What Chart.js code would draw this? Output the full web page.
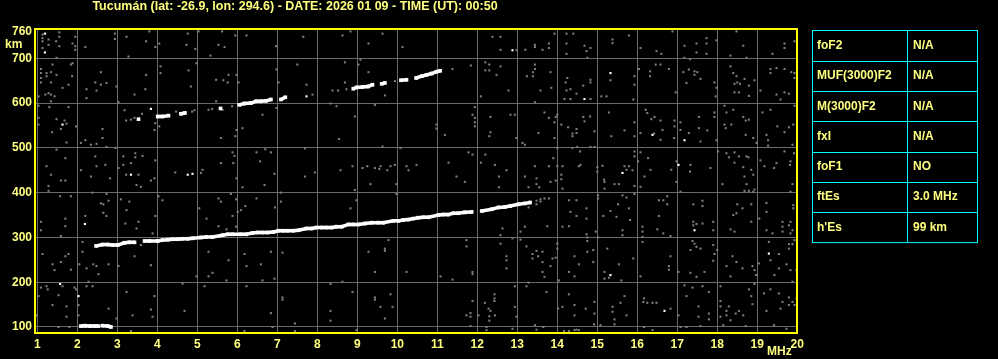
<!DOCTYPE html>
<html>
<head>
<meta charset="utf-8">
<script src="https://cdn.jsdelivr.net/npm/chart.js@4.4.1/dist/chart.umd.min.js"></script>
<style>
  html, body { margin: 0; padding: 0; background: #000; }
  #wrap { position: relative; width: 998px; height: 359px; }
</style>
</head>
<body>
<div id="wrap"><canvas id="iono"></canvas></div>
<script>
const titleText = "Tucumán (lat: -26.9, lon: 294.6) - DATE: 2026 01 09 - TIME (UT): 00:50";
const freqTicks = [1, 2, 3, 4, 5, 6, 7, 8, 9, 10, 11, 12, 13, 14, 15, 16, 17, 18, 19, 20];
const heightTicks = [100, 200, 300, 400, 500, 600, 700, 760];

const tableLabels = ["foF2", "MUF(3000)F2", "M(3000)F2", "fxI", "foF1", "ftEs", "h'Es"];
const tableValues = ["N/A", "N/A", "N/A", "N/A", "NO", "3.0 MHz", "99 km"];

// echo traces [MHz, km]; null marks a break in the trace
const esTrace = [[2.09,102],[2.2,103],[2.32,102],[2.43,102],[2.53,102],null,[2.63,103],[2.76,102],[2.84,100]];

const lowerTrace = [
  [2.47,281],[2.63,284],[2.76,284],[2.88,283],[3.01,283],[3.18,288],[3.3,289],[3.43,289],null,
  [3.68,292],[3.8,292],[4.01,292],[4.13,294],[4.26,295],[4.38,296],[4.51,296],[4.63,297],
  [4.76,297],[4.88,298],[5.09,300],[5.22,301],[5.38,301],[5.63,305],[5.76,307],[5.88,307],
  [6.09,307],[6.22,307],[6.38,310],[6.51,311],[6.63,311],[6.76,311],[6.9,312],[7.03,315],
  [7.15,315],[7.26,315],[7.4,315],[7.53,316],[7.73,320],[7.86,320],[7.98,322],[8.11,322],
  [8.23,322],[8.36,322],[8.48,324],[8.61,324],[8.78,329],[8.9,329],[9.03,329],[9.19,331],
  [9.36,333],[9.52,333],[9.65,333],[9.9,337],[10.03,337],[10.15,339],[10.28,340],[10.4,342],
  [10.52,344],[10.65,345],[10.78,345],[11.03,350],[11.15,351],[11.27,351],[11.4,354],[11.52,354],
  [11.69,356],[11.86,357],null,[12.11,359],[12.36,363],[12.53,367],[12.69,368],[12.82,370],[13.03,374],
  [13.19,376],[13.32,378]
];

const upperTrace = [
  [3.53,564],null,[4.01,570],[4.13,570],[4.28,572],null,[4.59,576],[4.69,578],null,[5.58,588],null,
  [6.05,596],[6.17,599],[6.34,600],[6.47,604],[6.59,604],[6.72,605],[6.84,608],null,[7.09,608],[7.2,613],null,
  [8.9,632],[8.98,635],[9.13,636],[9.27,637],[9.38,641],null,[9.61,643],[9.69,645],null,[10.09,651],
  [10.23,652],null,[10.47,656],[10.61,660],[10.73,663],[10.86,666],[10.98,670],[11.07,672]
];

const whiteDots = [
  [1.19,755],[1.19,713],[1.63,552],[3.84,587],[3.34,440],[4.76,440],[4.88,442],[12.88,718],
  [7.73,615],[14.68,609],[15.33,667],[16.38,529],[17.18,517],[15.63,444],[17.03,462],[2.19,330],
  [1.57,196],[2.03,169],[17.43,316],[15.33,216],[19.29,264],[16.68,136]
];

const noiseDots = [
  // 500-760 km, 1-7 MHz
  [1.13,753],[1.13,745],[1.13,738],[1.28,742],[1.28,730],[1.13,723],[1.55,758],[1.55,748],
  [1.47,738],[1.55,727],[1.88,733],[1.95,748],[1.95,727],[1.95,719],[2.2,725],[2.94,755],
  [2.94,743],[3.23,748],[3.28,704],[3.8,760],[3.72,738],[3.95,725],[4.05,733],[4.76,755],
  [4.73,730],[4.95,721],[5.03,760],[5.33,706],[5.53,730],[5.68,725],[5.62,760],[5.95,751],
  [6.23,751],[6.97,727],[1.48,701],
  [1.09,676],[1.09,667],[1.09,656],[1.09,646],[1.23,667],[1.23,660],[1.34,669],[1.34,646],
  [1.38,686],[1.48,663],[1.63,634],[1.84,686],[1.88,689],[1.87,660],[1.78,641],[1.28,622],
  [1.2,619],[1.34,619],[1.03,615],[1.43,615],[1.34,604],[2.23,631],[2.23,611],[2.45,646],
  [2.48,628],[2.59,669],[2.73,645],[2.59,641],[2.98,637],[3.03,602],[3.43,619],[3.72,663],
  [3.7,631],[4.08,682],[4.08,667],[4.78,673],[4.84,637],[4.98,689],[5.47,652],[5.65,651],
  [5.76,646],[5.78,663],[5.98,663],[6.03,646],[7.03,646],[5.47,604],[6.98,675],
  [1.03,594],[1.03,567],[1.03,552],[1.3,591],[1.78,591],[1.48,564],[1.68,561],[1.73,554],
  [1.97,548],[1.37,535],[1.59,542],[1.73,512],[2.2,517],[2.09,511],[2.34,507],[2.48,509],
  [2.63,542],[2.63,522],[2.73,502],[2.95,500],[3.18,584],[3.22,561],[3.34,563],[3.43,567],
  [3.62,576],[3.95,555],[3.93,540],[4.05,548],[4.47,581],[4.87,581],[4.93,584],[5.28,585],
  [5.37,587],[5.63,585],[5.87,593],[5.59,522],[5.95,526],[5.98,540],[6.13,544],[6.63,574],
  [6.98,589],
  // 420-500 km, 1-7 MHz
  [1.48,496],[1.7,477],[1.23,459],[1.34,440],[1.59,427],[2.09,450],[2.34,436],[2.45,481],
  [2.48,459],[2.7,462],[2.82,432],[3.03,455],[3.15,481],[3.15,462],[3.22,440],[3.34,466],
  [3.45,488],[3.45,479],[3.53,440],[3.63,482],[3.95,472],[3.93,432],[4.45,445],[5.13,451],
  [5.09,444],[5.59,466],[5.88,490],[5.93,482],[5.9,466],[5.98,432],[6.48,490],[6.7,497],
  [6.57,470],[6.84,490],[6.93,442],
  // 420-760 km, 7-14 MHz
  [7.65,748],[8.63,751],[8.83,760],[9.63,755],[9.28,733],[10.13,725],[12.38,748],[12.58,748],
  [12.58,719],[12.98,718],[13.2,719],[13.44,730],[13.44,725],[13.63,719],[7.5,686],[8.69,691],
  [9.03,686],[9.08,697],[9.28,669],[7.73,641],[8.69,646],[8.38,628],[8.52,628],[8.73,631],
  [7.88,619],[9.69,617],[11.38,676],[11.84,684],[12.2,691],[12.3,686],[12.2,673],[12.3,673],
  [12.58,682],[12.48,663],[12.78,628],[13.24,660],[13.39,669],[13.44,686],[13.44,676],[13.39,660],
  [13.58,628],[13.44,602],[12.09,615],[9.94,649],
  [8.33,599],[8.48,593],[8.94,570],[9.44,596],[8.54,520],[10.98,552],[10.98,543],[11.19,529],
  [11.94,591],[11.88,574],[11.94,567],[11.94,557],[11.94,548],[12.33,569],[12.83,574],[12.94,574],
  [12.33,535],[12.3,526],[12.98,522],[13.13,511],[13.19,507],[13.53,533],[9.63,503],[10.08,500],
  [7.69,499],
  [7.69,436],[7.94,445],[8.58,450],[8.88,459],[9.13,455],[9.25,459],[9.44,455],[9.55,453],
  [9.58,459],[9.75,450],[9.83,459],[9.94,462],[10.23,459],[10.28,450],[10.48,462],[11.28,467],
  [11.48,436],[11.78,490],[11.88,485],[12.09,467],[12.2,485],[12.44,462],[12.54,436],[12.73,450],
  [13.19,436],[13.44,459],[13.48,432],
  // 420-760 km, 14-20 MHz
  [13.93,755],[14.23,755],[14.4,755],[13.79,733],[13.79,723],[14.23,733],[14.73,716],[14.68,728],
  [14.83,723],[14.23,710],[14.75,701],[15.38,742],[15.38,734],[15.79,751],[16.08,723],[16.48,716],
  [16.6,710],[16.88,760],[17.18,728],[17.48,733],[17.48,713],[17.73,745],[17.73,733],[17.73,710],
  [17.98,740],[17.18,701],[17.32,698],[18.33,706],[18.48,760],[18.65,728],[18.73,701],[19.38,710],
  [19.68,733],[19.68,723],[19.93,738],
  [13.83,669],[13.85,634],[14.21,646],[14.25,656],[14.23,628],[14.33,631],[14.18,609],[14.33,609],
  [14.48,621],[14.65,639],[14.83,652],[14.83,646],[14.83,609],[15.33,651],[15.1,615],[15.23,615],
  [15.93,660],[15.93,641],[15.9,608],[16.04,676],[16.32,671],[16.32,660],[16.46,686],[16.58,686],
  [16.79,676],[16.96,624],[17.15,669],[17.29,675],[17.43,671],[17.43,663],[17.5,669],[17.58,654],
  [17.23,645],[17.93,646],[17.98,634],[17.96,615],[18.33,682],[18.4,667],[18.48,660],[18.5,646],
  [18.43,643],[18.57,643],[18.79,639],[18.68,654],[18.93,651],[18.43,624],[18.54,624],[18.79,616],
  [19.08,628],[19.33,676],[19.33,667],[19.48,678],[19.68,676],[19.93,667],[19.93,656],[19.85,669],
  [19.48,619],[19.58,608],[19.68,624],[19.79,621],
  [13.68,579],[13.79,567],[13.96,569],[14.0,574],[13.93,557],[14.1,552],[14.27,546],[14.48,542],
  [14.38,532],[14.38,526],[14.48,533],[14.65,569],[14.68,559],[14.82,570],[14.93,537],[13.93,522],
  [14.0,500],[15.29,579],[15.68,539],[15.93,557],[15.35,526],[15.93,526],[16.21,585],[16.25,578],
  [16.35,564],[16.43,569],[16.58,561],[16.63,540],[16.42,532],[16.08,533],[16.58,518],[16.93,561],
  [16.93,548],[16.92,522],[17.08,557],[17.08,540],[17.29,533],[17.54,569],[17.54,544],[17.75,539],
  [17.58,514],[17.93,569],[17.98,517],[17.93,579],[18.18,594],[18.23,579],[18.18,552],[18.21,544],
  [18.35,552],[18.4,585],[18.65,569],[18.71,561],[18.79,563],[18.71,529],[18.9,522],[18.98,511],
  [19.13,579],[19.33,585],[19.23,529],[19.27,517],[19.27,505],[19.5,548],[19.68,535],[19.79,546],
  [19.9,552],[19.93,594],[19.88,507],
  [13.9,477],[13.79,459],[14.0,459],[14.13,459],[14.1,440],[14.1,430],[14.38,500],[14.5,502],
  [14.57,492],[14.83,502],[14.93,502],[14.54,459],[14.58,462],[15.0,457],[15.0,447],[15.13,460],
  [15.17,429],[15.68,459],[15.73,451],[15.79,459],[15.88,450],[15.93,481],[15.93,492],[16.08,490],
  [16.02,470],[16.18,436],[16.27,477],[16.33,451],[16.85,451],[16.98,470],[17.33,462],[17.32,447],
  [17.83,455],[18.02,492],[18.23,488],[18.29,479],[18.43,490],[18.43,467],[18.54,481],[18.73,481],
  [18.78,479],[18.65,457],[18.68,436],[18.9,440],[18.85,451],[19.08,472],[19.18,459],[19.42,455],
  [19.48,466],[19.68,492],[19.83,470],[19.92,488],[19.82,462],
  // 90-420 km, 1-7 MHz
  [1.28,415],[1.28,404],[1.57,392],[1.84,392],[1.7,427],[2.38,400],[2.73,397],[2.78,382],
  [2.65,374],[2.59,376],[3.09,385],[3.23,361],[3.3,380],[3.48,417],[3.59,413],[3.84,427],
  [4.03,392],[4.13,383],[5.53,387],[5.59,380],[5.84,397],[5.97,385],[6.09,361],[6.2,370],
  [6.13,412],[6.48,387],[6.68,417],[6.94,367],[7.09,380],[7.09,400],
  [1.09,335],[1.09,316],[1.7,342],[1.7,325],[1.59,303],[2.2,348],[2.65,355],[2.73,348],
  [3.2,331],[3.53,335],[3.48,320],[3.95,348],[3.88,309],[5.05,365],[5.23,342],[5.53,325],
  [5.73,318],[5.88,348],[5.97,324],[6.01,357],
  [1.13,263],[1.38,240],[1.43,227],[1.59,245],[1.7,258],[1.78,263],[1.84,228],[2.05,240],
  [2.13,268],[2.23,231],[2.4,240],[2.48,236],[2.53,218],[2.78,240],[3.03,236],[3.43,258],
  [3.84,238],[4.98,213],[5.28,268],[5.38,221],[5.28,213],[5.78,249],[5.73,204],[6.23,236],
  [6.18,263],[6.59,240],[6.63,204],[6.84,268],[6.93,208],[7.13,266],[3.59,283],[3.15,290],
  [2.13,290],
  [1.09,188],[1.23,191],[1.26,184],[1.53,171],[1.63,191],[1.93,188],[1.97,184],[2.23,191],
  [2.38,191],[2.28,201],[1.38,149],[1.73,146],[2.03,149],[1.73,123],[2.03,126],[2.78,141],
  [2.98,119],[3.23,178],[3.38,126],[3.84,139],[3.88,123],[3.93,169],[4.63,197],[4.68,136],
  [5.18,191],[6.23,191],[6.84,131],[7.13,166],[7.13,161],[1.03,169],[0.98,126],[1.53,100],
  [1.8,100],[3.34,91],[6.18,91],[6.88,100],
  // 90-420 km, 7-14 MHz
  [9.33,419],[9.98,419],[9.98,397],[8.94,406],[8.98,383],[8.83,365],[11.69,424],[12.54,412],
  [13.28,412],[13.48,419],[13.55,412],[13.58,385],[13.58,380],[13.48,374],[13.28,367],[13.48,382],
  [9.78,294],[9.69,275],[9.69,270],[9.28,268],[9.44,223],[10.23,223],[11.08,213],[11.38,206],
  [11.73,294],[11.73,280],[11.88,223],[11.88,218],[12.58,305],[12.58,286],[12.63,320],[12.73,258],
  [12.73,249],[12.73,231],[12.88,298],[13.08,313],[13.08,295],[13.19,324],[13.23,280],[13.38,263],
  [13.38,253],[13.48,270],[13.52,258],[13.63,268],[13.63,245],[13.63,223],[13.28,199],[13.23,191],
  [12.94,191],[8.33,196],[8.63,201],[8.88,178],[9.44,166],[9.44,161],[9.83,173],[9.58,145],
  [9.88,145],[8.33,136],[8.33,114],[9.69,119],[7.44,108],[7.44,91],[8.98,93],[11.73,126],
  [11.83,131],[11.83,123],[11.83,102],[11.88,158],[12.03,126],[12.19,154],[12.28,141],[12.33,136],
  [12.3,124],[12.3,114],[12.43,173],[12.43,164],[12.43,158],[12.44,126],[12.23,100],[12.23,93],
  [12.94,145],[12.98,123],[12.88,96],[13.44,104],[13.65,100],[13.48,94],
  // 90-420 km, 14-20 MHz
  [13.83,424],[13.96,427],[14.13,409],[15.18,424],[15.18,409],[15.43,419],[15.54,419],[15.93,415],
  [16.08,413],[16.98,424],[17.08,402],[18.13,419],[18.73,419],[18.68,404],[18.79,404],[18.9,402],
  [18.93,407],[19.88,419],[19.83,402],
  [13.68,387],[13.79,387],[14.29,383],[14.48,383],[14.33,357],[14.48,348],[14.73,365],[14.73,342],
  [14.13,324],[14.29,325],[13.75,325],[14.73,307],[14.75,300],[14.75,292],[14.96,313],[15.02,394],
  [15.02,387],[15.15,348],[15.33,359],[15.48,346],[15.52,374],[15.63,394],[15.63,316],[15.63,305],
  [15.73,389],[15.79,365],[15.93,397],[15.82,339],[16.13,324],[16.13,313],[16.13,301],[16.5,318],
  [16.65,309],[16.54,383],[16.65,383],[16.75,392],[16.75,374],[16.54,348],[16.83,303],[17.4,374],
  [17.63,382],[17.63,370],[17.4,335],[17.4,327],[17.48,330],[17.63,331],[17.9,335],[17.9,316],
  [18.5,374],[18.33,318],[18.43,313],[18.4,350],[18.48,354],[18.63,365],[18.85,335],[18.85,374],
  [19.23,377],[19.23,357],[19.05,342],[19.23,316],[19.38,309],[19.63,335],[19.63,324],[19.63,313],
  [19.79,327],[19.83,335],[19.88,316],[19.83,309],[19.9,372],[19.9,365],[19.93,294],[19.88,285],
  [19.79,285],[19.79,275],
  [14.0,286],[14.0,275],[13.88,253],[13.96,255],[13.83,236],[13.68,212],[14.04,204],[14.29,223],
  [14.43,258],[14.43,213],[14.54,240],[14.75,268],[14.9,272],[14.9,245],[15.02,300],[15.25,275],
  [15.18,223],[15.18,208],[15.29,210],[15.54,240],[15.6,204],[15.9,253],[16.08,213],[16.13,290],
  [16.83,258],[16.79,236],[16.79,228],[17.03,223],[17.33,272],[17.33,221],[17.38,292],[17.43,286],
  [17.48,279],[17.58,275],[17.68,223],[17.48,212],[17.9,283],[17.93,263],[17.9,248],[18.0,272],
  [18.23,236],[18.33,213],[18.38,258],[18.48,245],[18.63,231],[18.88,236],[18.93,227],[18.97,216],
  [19.04,242],[19.29,290],[19.33,249],[19.43,216],[19.54,263],[19.54,231],[19.73,240],[19.83,227],
  [19.98,227],[19.88,201],
  [13.73,178],[14.02,141],[14.13,145],[14.29,173],[14.43,149],[14.43,126],[14.29,91],[14.43,93],
  [14.54,93],[14.71,141],[14.93,156],[14.93,130],[14.92,106],[15.08,104],[15.38,145],[15.38,134],
  [15.43,117],[15.43,106],[15.68,169],[15.58,154],[15.73,126],[16.17,164],[16.15,156],[16.25,154],
  [16.38,154],[16.48,154],[16.83,141],[16.17,100],[16.38,93],[17.03,126],[17.18,193],[17.23,169],
  [17.38,188],[17.53,146],[17.53,123],[17.63,191],[17.79,178],[17.79,130],[17.79,117],[18.08,191],
  [18.08,158],[18.08,146],[18.08,123],[18.23,136],[18.23,126],[18.29,146],[18.33,115],[18.46,130],
  [18.54,136],[18.65,126],[18.71,102],[18.79,184],[18.85,169],[18.88,151],[18.93,196],[19.17,175],
  [19.23,136],[19.33,184],[19.54,175],[19.58,141],[19.63,156],[19.79,166],[19.79,149],[19.88,156],
  [19.93,149],[19.98,164],[19.42,104],[19.73,96],[18.15,104],[17.58,102],[17.08,100],[17.23,100],
  [14.48,94],[14.17,91]
];

const textYellow = "#ffff80";
const fontFamily = "'Liberation Sans', Arial, sans-serif";
const toXY = (arr) => arr.map((p) => (p ? { x: p[0], y: p[1] } : { x: null, y: null }));

const ionoExtras = {
  id: "ionoExtras",
  afterDraw(chart) {
    const { ctx, chartArea } = chart;
    ctx.save();
    // yellow frame
    ctx.strokeStyle = "#ffff00";
    ctx.lineWidth = 2;
    ctx.strokeRect(chartArea.left - 1, chartArea.top, chartArea.right - chartArea.left, chartArea.bottom - chartArea.top);

    ctx.fillStyle = textYellow;
    ctx.font = "bold 12.5px " + fontFamily;
    ctx.textBaseline = "middle";
    ctx.textAlign = "center";
    ctx.fillText(titleText, 295, 7);

    ctx.font = "bold 12px " + fontFamily;
    ctx.textAlign = "left";
    ctx.fillText("km", 5, 45);
    ctx.fillText("MHz", 767, 352);

    // parameter table
    const tx = 812.5, tw = 165, ty = 30.5, rowH = 30.3, split = 907.5;
    ctx.strokeStyle = "#00ffff";
    ctx.lineWidth = 1;
    ctx.strokeRect(tx, ty, tw, rowH * tableLabels.length);
    ctx.beginPath();
    ctx.moveTo(split, ty);
    ctx.lineTo(split, ty + rowH * tableLabels.length);
    for (let i = 1; i < tableLabels.length; i++) {
      const yy = Math.round(ty + rowH * i) + 0.5;
      ctx.moveTo(tx, yy);
      ctx.lineTo(tx + tw, yy);
    }
    ctx.stroke();
    ctx.font = "bold 12px " + fontFamily;
    tableLabels.forEach((lab, i) => {
      const yy = ty + rowH * (i + 0.5);
      ctx.fillText(lab, 817, yy);
      ctx.fillText(tableValues[i], 913, yy);
    });
    ctx.restore();
  }
};

const traceStyle = {
  pointStyle: "rect",
  pointRadius: 2.6,
  backgroundColor: "#ffffff",
  borderColor: "#ffffff",
  borderWidth: 3.5,
  pointBorderWidth: 0,
  showLine: true,
  spanGaps: false,
  tension: 0
};

new Chart(document.getElementById("iono"), {
  type: "scatter",
  data: {
    datasets: [
      { label: "Es", data: toXY(esTrace), ...traceStyle },
      { label: "F", data: toXY(lowerTrace), ...traceStyle },
      { label: "2F", data: toXY(upperTrace), ...traceStyle },
      { label: "strong", data: toXY(whiteDots), pointStyle: "rect", pointRadius: 1.5, backgroundColor: "#ffffff", borderWidth: 0 },
      { label: "noise", data: toXY(noiseDots), pointStyle: "rect", pointRadius: 1.45, backgroundColor: "#808080", borderWidth: 0 }
    ]
  },
  options: {
    responsive: true,
    maintainAspectRatio: false,
    animation: false,
    events: [],
    layout: { padding: { top: 29, right: 200, left: 0, bottom: 0 } },
    plugins: { legend: { display: false }, tooltip: { enabled: false }, title: { display: false } },
    scales: {
      x: {
        type: "linear",
        min: 0.967,
        max: 20.018,
        afterBuildTicks: (scale) => { scale.ticks = freqTicks.map((v) => ({ value: v })); },
        afterFit: (scale) => { scale.height = 26; },
        grid: { color: "#6a6a6a", lineWidth: 1, drawTicks: false },
        border: { display: false },
        ticks: {
          color: textYellow,
          padding: 4,
          maxRotation: 0,
          autoSkip: false,
          font: { family: fontFamily, size: 12, weight: "bold" },
          callback: (v) => String(v)
        }
      },
      y: {
        type: "linear",
        min: 86.6,
        max: 765.4,
        afterBuildTicks: (scale) => { scale.ticks = heightTicks.map((v) => ({ value: v })); },
        afterFit: (scale) => { scale.width = 36; },
        grid: {
          color: (c) => (c.tick && c.tick.value === 760 ? "rgba(0,0,0,0)" : "#6a6a6a"),
          lineWidth: 1,
          drawTicks: false
        },
        border: { display: false },
        ticks: {
          color: textYellow,
          padding: 4,
          autoSkip: false,
          font: { family: fontFamily, size: 12, weight: "bold" },
          callback: (v) => String(v)
        }
      }
    }
  },
  plugins: [ionoExtras]
});
</script>
</body>
</html>
